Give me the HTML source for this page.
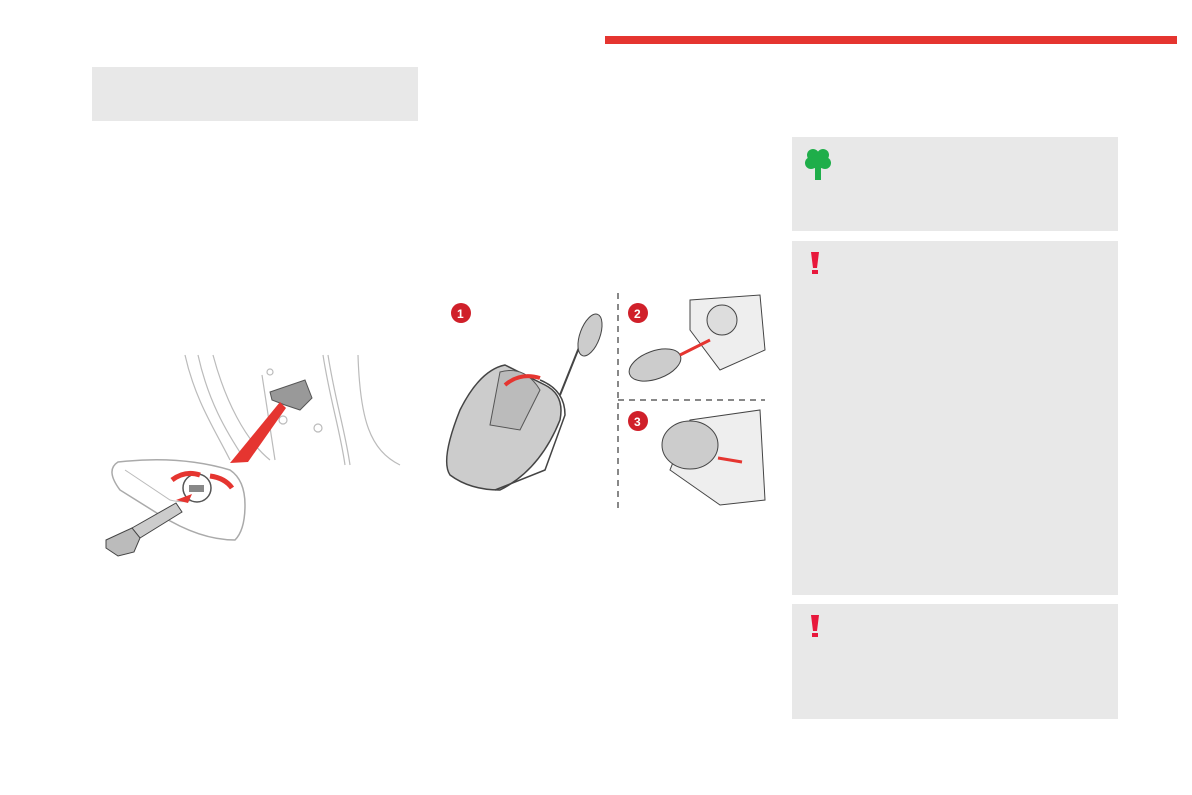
<!DOCTYPE html>
<html><head><meta charset="utf-8"><style>
html,body{margin:0;padding:0;background:#fff;}
body{width:1192px;height:795px;position:relative;overflow:hidden;font-family:"Liberation Sans",sans-serif;}
.g{position:absolute;background:#e8e8e8;}
</style></head><body>
<div style="position:absolute;left:605px;top:36px;width:572px;height:8px;background:#e53530"></div>
<div class="g" style="left:92px;top:67px;width:326px;height:54px"></div>
<div class="g" style="left:792px;top:137px;width:326px;height:94px"></div>
<div class="g" style="left:792px;top:241px;width:326px;height:354px"></div>
<div class="g" style="left:792px;top:604px;width:326px;height:115px"></div>
<svg style="position:absolute;left:0;top:0" width="1192" height="795">
 <g fill="#1fae4a">
  <circle cx="813" cy="155" r="6"/><circle cx="823" cy="155" r="6"/><circle cx="811" cy="163" r="6"/><circle cx="825" cy="163" r="6"/><circle cx="818" cy="162" r="7"/>
  <rect x="815" y="165" width="6" height="15"/>
 </g>
 <g fill="#e8183c">
  <polygon points="811,252 819,252 817,268 813,268"/><rect x="812" y="270" width="6" height="4"/>
  <polygon points="811,615 819,615 817,631 813,631"/><rect x="812" y="633" width="6" height="4"/>
 </g>
 <g fill="none" stroke="#bbb" stroke-width="1.2">
  <path d="M185,355 C195,400 215,430 230,460"/><path d="M198,355 C208,400 225,430 245,460"/>
  <path d="M213,355 C225,400 245,440 270,460"/><path d="M323,355 C330,400 340,430 345,465"/>
  <path d="M328,355 C335,400 345,430 350,465"/><path d="M358,355 C360,420 370,450 400,465"/>
  <path d="M262,375 L275,460"/>
  <circle cx="318" cy="428" r="4"/><circle cx="270" cy="372" r="3"/><circle cx="283" cy="420" r="4"/>
 </g>
 <path d="M270,392 L305,380 L312,398 L300,410 L285,405 L272,400 Z" fill="#999" stroke="#555"/>
 <path d="M118,462 Q105,470 120,490 L160,515 Q200,540 235,540 Q245,530 245,505 Q245,480 230,470 Q180,455 118,462 Z" fill="#fff" stroke="#aaa" stroke-width="1.5"/>
 <path d="M125,470 Q140,480 170,500 Q190,505 200,495" fill="none" stroke="#bbb"/>
 <circle cx="197" cy="488" r="14" fill="#fff" stroke="#555" stroke-width="1.5"/>
 <rect x="189" y="485" width="15" height="7" fill="#888"/>
 <polygon points="230,463 280,402 286,408 248,462" fill="#e53530"/>
 <path d="M172,480 Q185,470 200,475" fill="none" stroke="#e53530" stroke-width="5"/>
 <path d="M210,476 Q225,478 232,488" fill="none" stroke="#e53530" stroke-width="5"/>
 <polygon points="176,500 192,494 188,503" fill="#e53530"/>
 <polygon points="132,528 176,503 182,512 140,538" fill="#ccc" stroke="#444"/>
 <polygon points="106,540 132,528 140,538 134,552 118,556 106,548" fill="#bbb" stroke="#444"/>
 <circle cx="461" cy="313" r="10" fill="#d0202a"/><text x="457" y="318" font-size="12" font-weight="bold" fill="#fff">1</text>
 <path d="M505,365 Q480,370 460,410 Q440,460 450,475 Q470,490 500,490 Q540,470 560,420 Q565,395 545,385 Z" fill="#ccc" stroke="#444" stroke-width="1.5"/>
 <path d="M500,372 Q525,365 540,390 L520,430 L490,425 Z" fill="#bbb" stroke="#555"/>
 <path d="M540,380 Q565,390 565,415 L545,470 L495,490" fill="none" stroke="#444" stroke-width="1.5"/>
 <path d="M505,385 Q520,372 540,378" fill="none" stroke="#e53530" stroke-width="4"/>
 <path d="M560,395 L580,345" stroke="#444" stroke-width="2"/>
 <ellipse cx="590" cy="335" rx="10" ry="22" transform="rotate(20 590 335)" fill="#ccc" stroke="#444"/>
 <line x1="618" y1="293" x2="618" y2="510" stroke="#888" stroke-width="2" stroke-dasharray="6,5"/>
 <line x1="618" y1="400" x2="765" y2="400" stroke="#888" stroke-width="2" stroke-dasharray="6,5"/>
 <circle cx="638" cy="313" r="10" fill="#d0202a"/><text x="634" y="318" font-size="12" font-weight="bold" fill="#fff">2</text>
 <path d="M690,300 L760,295 L765,350 L720,370 L690,330 Z" fill="#eee" stroke="#444"/>
 <circle cx="722" cy="320" r="15" fill="#ddd" stroke="#444"/>
 <ellipse cx="655" cy="365" rx="27" ry="14" transform="rotate(-20 655 365)" fill="#ccc" stroke="#444"/>
 <line x1="680" y1="355" x2="710" y2="340" stroke="#e53530" stroke-width="3"/>
 <circle cx="638" cy="421" r="10" fill="#d0202a"/><text x="634" y="426" font-size="12" font-weight="bold" fill="#fff">3</text>
 <path d="M690,420 L760,410 L765,500 L720,505 L670,470 Z" fill="#eee" stroke="#444"/>
 <ellipse cx="690" cy="445" rx="28" ry="24" fill="#ccc" stroke="#444"/>
 <line x1="718" y1="458" x2="742" y2="462" stroke="#e53530" stroke-width="3"/>
</svg>
</body></html>
